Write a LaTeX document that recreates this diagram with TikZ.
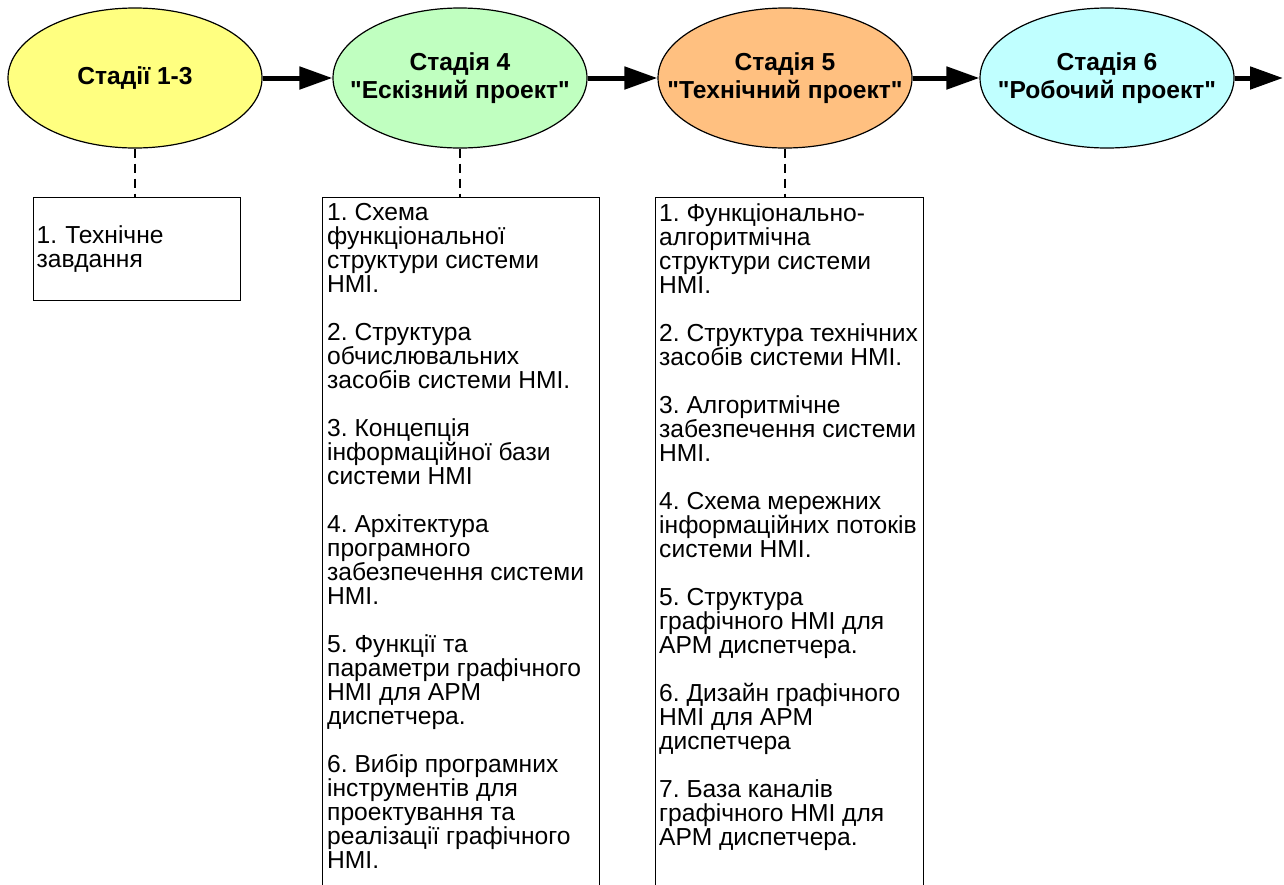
\documentclass[tikz,border=0pt]{standalone}
\usepackage{fontspec}
\setmainfont{Liberation Sans}
\usetikzlibrary{arrows.meta,positioning,shapes.geometric}
\definecolor{stageyellow}{RGB}{255,255,128}
\definecolor{stagegreen}{RGB}{192,255,192}
\definecolor{stageorange}{RGB}{255,192,128}
\definecolor{stagecyan}{RGB}{192,255,255}
\frenchspacing

\begin{document}
\begin{tikzpicture}[x=1pt, y=1pt,
    stage/.style={ellipse, draw, line width=1.2pt, minimum width=254pt, minimum height=140pt, inner sep=0pt},
    stagetext/.style={align=center, inner sep=0pt, font=\fontsize{24.6}{28}\selectfont\bfseries},
    docbox/.style={draw, line width=1.2pt, anchor=north west, inner sep=0pt},
    doctext/.style={anchor=north west, align=left, inner sep=0pt, font=\fontsize{24.6}{24}\selectfont},
    arr/.style={-{Triangle[length=33pt, width=22pt]}, line width=5pt},
    link/.style={dash pattern=on 9pt off 6pt, line width=1.2pt}
]
\useasboundingbox (0,0) rectangle (1284,-884);
\clip (0,0) rectangle (1284,-884);

% stages
\node[stage, fill=stageyellow] (st13) at (135,-78) {};
\node[stage, fill=stagegreen] (st4) at (460,-78) {};
\node[stage, fill=stageorange] (st5) at (785,-78) {};
\node[stage, fill=stagecyan] (st6) at (1107,-78) {};
\coordinate (next) at (1283,-78);

\node[stagetext] (st13t) at (st13) {Стадії 1-3};
\node[stagetext] (st4t) at (st4) {Стадія 4\\\textquotedbl Ескізний проект\textquotedbl};
\node[stagetext] (st5t) at (st5) {Стадія 5\\\textquotedbl Технічний проект\textquotedbl};
\node[stagetext] (st6t) at (st6) {Стадія 6\\\textquotedbl Робочий проект\textquotedbl};

% documents of each stage
\node[docbox, minimum height=103pt, text width=201pt, inner xsep=3pt, align=left,
      font=\fontsize{24.6}{24}\selectfont] (box13) at (33,-197) {1. Технічне\\завдання};
\node[docbox, minimum width=277pt, minimum height=720pt] (box4) at (322,-197) {};
\node[docbox, minimum width=268pt, minimum height=720pt] (box5) at (655,-197) {};

\node[doctext] (list4) at ([shift={(5,-6)}]box4.north west) {1. Схема\\функціональної\\структури системи\\HMI.\\[24pt]
2. Структура\\обчислювальних\\засобів системи HMI.\\[24pt]
3. Концепція\\інформаційної бази\\системи HMI\\[24pt]
4. Архітектура\\програмного\\забезпечення системи\\HMI.\\[24pt]
5. Функції та\\параметри графічного\\HMI для АРМ\\диспетчера.\\[24pt]
6. Вибір програмних\\інструментів для\\проектування та\\реалізації графічного\\HMI.};
\node[doctext] (list5) at ([shift={(4,-6)}]box5.north west) {1. Функціонально-\\алгоритмічна\\структури системи\\HMI.\\[24pt]
2. Структура технічних\\засобів системи HMI.\\[24pt]
3. Алгоритмічне\\забезпечення системи\\HMI.\\[24pt]
4. Схема мережних\\інформаційних потоків\\системи HMI.\\[24pt]
5. Структура\\графічного HMI для\\АРМ диспетчера.\\[24pt]
6. Дизайн графічного\\HMI для АРМ\\диспетчера\\[24pt]
7. База каналів\\графічного HMI для\\АРМ диспетчера.};

\draw[arr] (st13) -- (st4);
\draw[arr] (st4) -- (st5);
\draw[arr] (st5) -- (st6);
\draw[arr] (st6) -- (next);

\draw[link] (st13.south) -- (st13.south |- box13.north);
\draw[link] (st4.south) -- (st4.south |- box4.north);
\draw[link] (st5.south) -- (st5.south |- box5.north);
\end{tikzpicture}
\end{document}
